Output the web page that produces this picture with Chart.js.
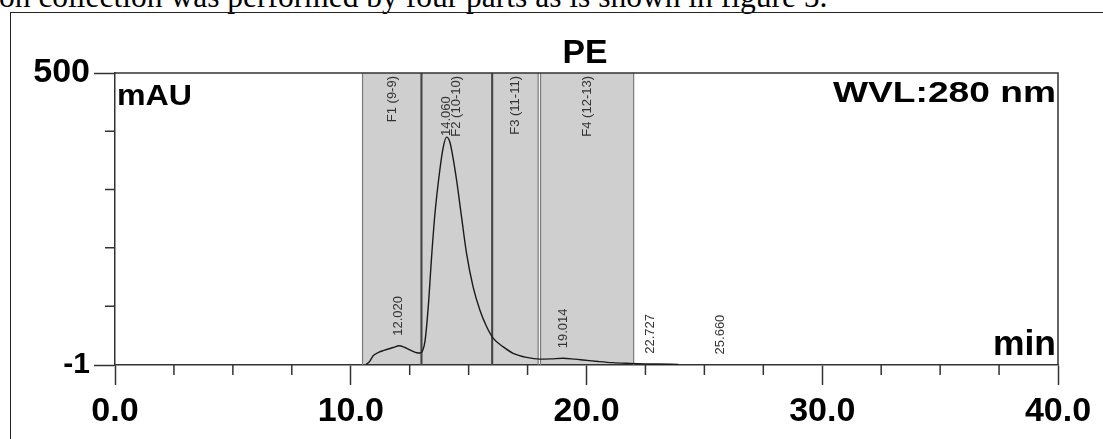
<!DOCTYPE html>
<html lang="en">
<head>
    <meta charset="UTF-8">
    <title>PE chromatogram</title>
    <script src="https://cdn.jsdelivr.net/npm/chart.js"></script>
    <style>
        body {
            margin: 0;
            background: #fff;
            width: 1103px;
            height: 439px;
            overflow: hidden;
            position: relative;
        }
        /* sentence cut off above the figure */
        .caption {
            position: absolute;
            left: -1px;
            top: -19px;
            font-family: 'Liberation Serif', 'Times New Roman', serif;
            font-size: 31.5px;
            line-height: 31px;
            white-space: nowrap;
            color: #000;
        }
        .frame {
            position: absolute;
            left: 10px;
            top: 12px;
            width: 1200px;
            height: 600px;
            border: 1.5px solid #222;
        }
        #chart {
            position: absolute;
            left: 0;
            top: 0;
        }
    </style>
</head>
<body>
    <div class="caption">on collection was performed by four parts as is shown in figure 5.</div>
    <div class="frame"></div>
    <canvas id="chart" width="1103" height="439"></canvas>

    <script>
        // retention time (min) and absorbance (mAU)
        const times = [10.65, 10.8, 10.95, 11.2, 11.4, 11.8, 12.05, 12.3, 12.55, 12.8, 12.95,
            13.05, 13.15, 13.29, 13.43, 13.57, 13.78, 13.92, 14.06, 14.2, 14.35, 14.49,
            14.7, 14.91, 15.19, 15.48, 15.76, 16.04, 16.47, 16.89, 17.46, 18.02, 18.5,
            19.0, 19.5, 19.86, 20.5, 21.1, 21.84, 22.5, 23.0, 23.9];
        const absorbance = [0, 5, 15, 21, 24, 29, 32, 29, 24, 20, 19.5,
            24, 40, 100, 185, 258, 334, 372, 390, 382, 352, 316,
            253, 191, 133, 93, 65, 45, 30, 19, 12, 9, 9.5,
            10.5, 9, 7.6, 5, 3, 1.8, 1, 0.6, 0];

        // fraction windows
        const fractionLabels = ['F1 (9-9)', 'F2 (10-10)', 'F3 (11-11)', 'F4 (12-13)'];
        const fractionStart = [10.5, 13.0, 16.0, 18.05];
        const fractionEnd = [13.0, 16.0, 17.95, 22.0];

        // peak annotations
        const peakLabels = ['12.020', '14.060', '19.014', '22.727', '25.660'];
        const peakTimes = [12.02, 14.06, 19.014, 22.727, 25.66];
        const peakHeights = [32, 390, 10.5, 1, 0];

        // axis ticks
        const xMajor = [0, 10, 20, 30, 40];
        const xMinor = [2.5, 5, 7.5, 12.5, 15, 17.5, 22.5, 25, 27.5, 32.5, 35, 37.5];
        const yMajor = [-1, 500];
        const yMinor = [100, 200, 300, 400];

        const SANS = "'Liberation Sans', Arial, sans-serif";
        const AXIS = '#333';

        function fitText(ctx, text, x, y, font, width, align) {
            ctx.save();
            ctx.font = font;
            const s = width / ctx.measureText(text).width;
            ctx.translate(x, y);
            ctx.scale(s, 1);
            ctx.textAlign = align;
            ctx.textBaseline = 'alphabetic';
            ctx.fillStyle = '#000';
            ctx.fillText(text, 0, 0);
            ctx.restore();
        }

        // grey fraction bands + their labels, under the trace
        const bandsPlugin = {
            id: 'bands',
            beforeDatasetsDraw(chart) {
                const { ctx, chartArea: ca, scales: { x } } = chart;
                ctx.save();
                fractionStart.forEach((s, i) => {
                    const x0 = x.getPixelForValue(s);
                    const x1 = x.getPixelForValue(fractionEnd[i]);
                    ctx.fillStyle = '#cfcfcf';
                    ctx.fillRect(x0, ca.top, x1 - x0, ca.bottom - ca.top - 1);
                    ctx.strokeStyle = '#7a7a7a';
                    ctx.lineWidth = 1.2;
                    ctx.beginPath();
                    ctx.moveTo(x0, ca.top); ctx.lineTo(x0, ca.bottom);
                    ctx.moveTo(x1, ca.top); ctx.lineTo(x1, ca.bottom);
                    ctx.stroke();
                });
                // shared edges are drawn darker
                ctx.strokeStyle = '#444';
                ctx.lineWidth = 2;
                ctx.beginPath();
                fractionStart.forEach((s, i) => {
                    if (i > 0 && s === fractionEnd[i - 1]) {
                        const px = x.getPixelForValue(s);
                        ctx.moveTo(px, ca.top); ctx.lineTo(px, ca.bottom);
                    }
                });
                ctx.stroke();

                ctx.fillStyle = '#333';
                ctx.font = '13px ' + SANS;
                ctx.textBaseline = 'middle';
                fractionLabels.forEach((lab, i) => {
                    const cx = x.getPixelForValue((fractionStart[i] + fractionEnd[i]) / 2);
                    ctx.save();
                    ctx.translate(cx, ca.top + 3);
                    ctx.rotate(-Math.PI / 2);
                    ctx.textAlign = 'right';
                    ctx.fillText(lab, 0, 0);
                    ctx.restore();
                });
                ctx.restore();
            }
        };

        const decorPlugin = {
            id: 'decor',
            afterDraw(chart) {
                const { ctx, chartArea: ca, scales: { x, y } } = chart;
                ctx.save();
                ctx.strokeStyle = AXIS;
                ctx.lineWidth = 1.5;
                ctx.beginPath();
                // top and right of the plot box
                ctx.moveTo(ca.left, ca.top); ctx.lineTo(ca.right, ca.top); ctx.lineTo(ca.right, ca.bottom);
                // short ticks
                xMinor.forEach(v => {
                    const px = x.getPixelForValue(v);
                    ctx.moveTo(px, ca.bottom); ctx.lineTo(px, ca.bottom + 10);
                });
                yMinor.forEach(v => {
                    const py = y.getPixelForValue(v);
                    ctx.moveTo(ca.left - 10, py); ctx.lineTo(ca.left, py);
                });
                ctx.stroke();

                // peak retention times
                ctx.fillStyle = '#333';
                ctx.font = '13px ' + SANS;
                ctx.textBaseline = 'middle';
                peakLabels.forEach((lab, i) => {
                    const px = x.getPixelForValue(peakTimes[i]);
                    const py = Math.max(y.getPixelForValue(peakHeights[i]) - 10, ca.top + 63);
                    ctx.save();
                    ctx.translate(px, py);
                    ctx.rotate(-Math.PI / 2);
                    ctx.textAlign = 'left';
                    ctx.fillText(lab, 0, 0);
                    ctx.restore();
                });
                ctx.restore();

                fitText(ctx, 'mAU', ca.left + 2, ca.top + 32, 'bold 30px ' + SANS, 75, 'left');
                fitText(ctx, 'WVL:280 nm', ca.right - 2, ca.top + 29, 'bold 30px ' + SANS, 223, 'right');
                fitText(ctx, 'min', ca.right - 2, ca.bottom - 10, 'bold 35px ' + SANS, 63, 'right');
                fitText(ctx, 'PE', 585, ca.top - 10, 'bold 34px ' + SANS, 45, 'center');
            }
        };

        const ctx = document.getElementById('chart').getContext('2d');
        const chart = new Chart(ctx, {
            type: 'line',
            data: {
                datasets: [{
                    data: times.map((t, i) => ({ x: t, y: absorbance[i] })),
                    borderColor: '#1a1a1a',
                    borderWidth: 1.4,
                    pointRadius: 0,
                    cubicInterpolationMode: 'monotone',
                    fill: false
                }]
            },
            options: {
                responsive: false,
                animation: false,
                layout: { padding: { left: 0, top: 73, right: 45, bottom: 0 } },
                plugins: { legend: { display: false }, tooltip: { enabled: false } },
                scales: {
                    x: {
                        type: 'linear',
                        min: 0,
                        max: 40,
                        afterBuildTicks: s => { s.ticks = xMajor.map(v => ({ value: v })); },
                        afterFit: s => { s.height = 74; },
                        ticks: {
                            autoSkip: false,
                            maxRotation: 0,
                            padding: 6,
                            color: '#000',
                            font: { family: SANS, size: 34, weight: 'bold' },
                            callback: v => Number(v).toFixed(1)
                        },
                        grid: { drawOnChartArea: false, tickLength: 20, tickColor: AXIS, tickWidth: 1.5 },
                        border: { color: AXIS, width: 1.5 }
                    },
                    y: {
                        min: -1,
                        max: 500,
                        afterBuildTicks: s => { s.ticks = yMajor.map(v => ({ value: v })); },
                        afterFit: s => { s.width = 115; },
                        ticks: {
                            padding: 4,
                            color: '#000',
                            font: c => ({ family: SANS, size: c.tick && c.tick.value === 500 ? 34 : 30, weight: 'bold' }),
                            callback: v => String(v)
                        },
                        grid: { drawOnChartArea: false, tickLength: 21, tickColor: AXIS, tickWidth: 1.5 },
                        border: { color: AXIS, width: 1.5 }
                    }
                }
            },
            plugins: [bandsPlugin, decorPlugin]
        });
    </script>
</body>
</html>
